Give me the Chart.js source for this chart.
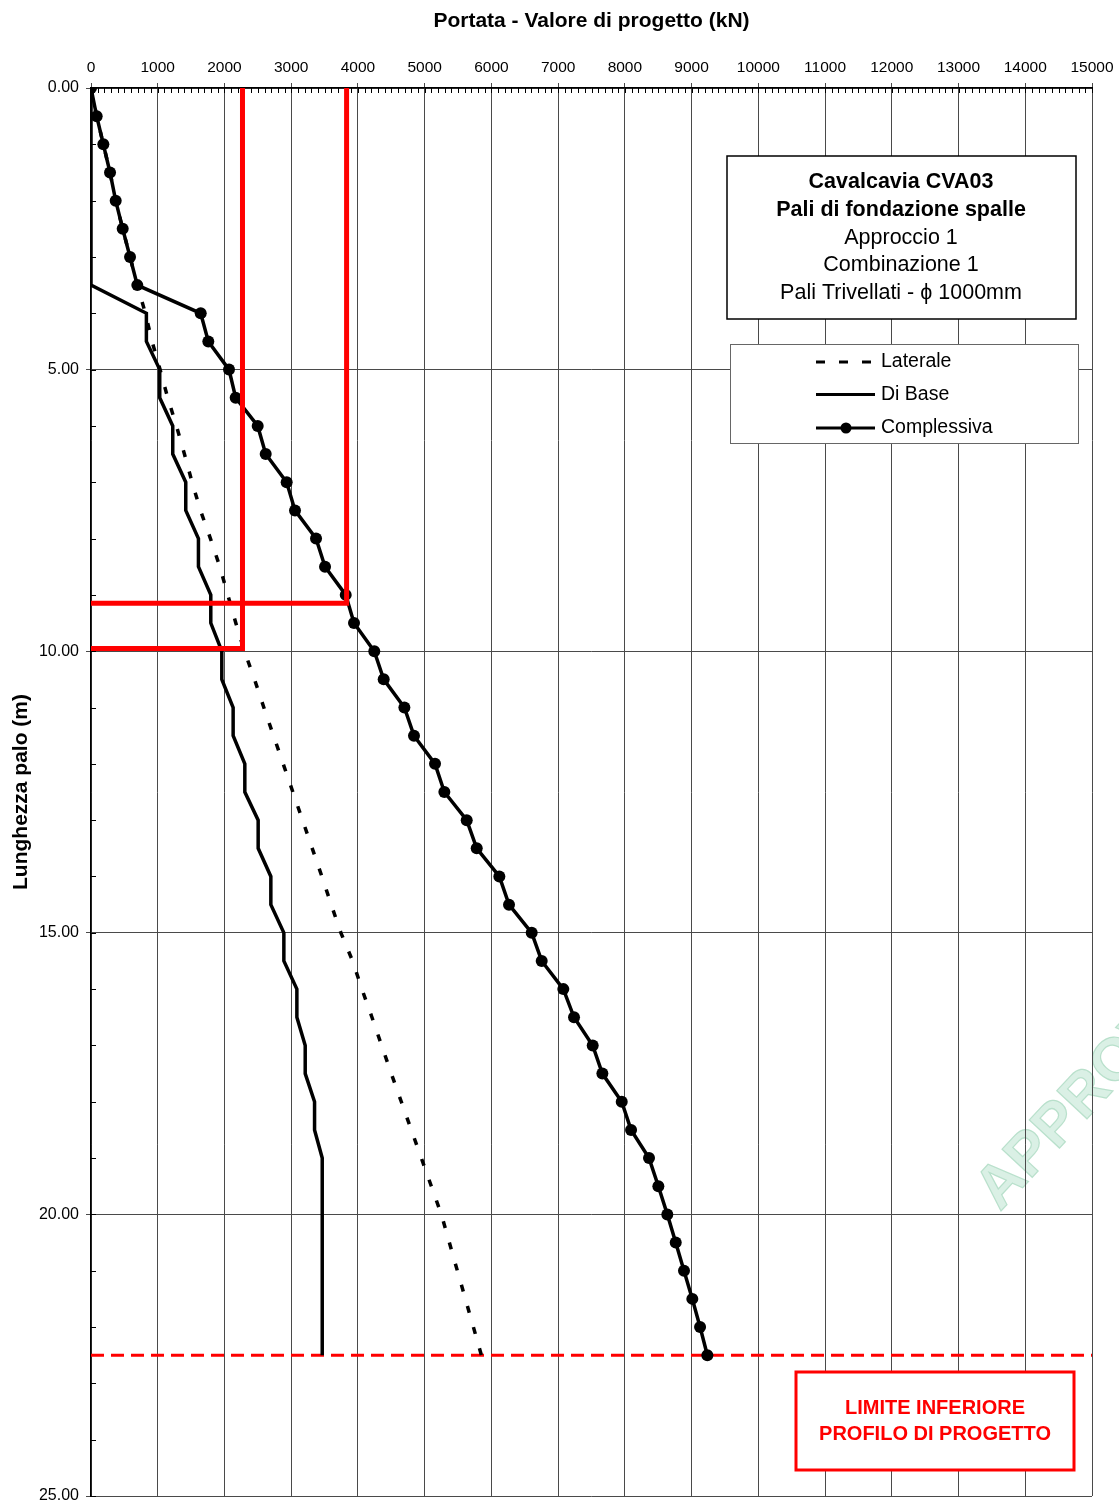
<!DOCTYPE html>
<html>
<head>
<meta charset="utf-8">
<title>Portata - Valore di progetto (kN)</title>
<script src="https://cdn.jsdelivr.net/npm/chart.js@4.4.1/dist/chart.umd.min.js"></script>
<style>
    html, body { margin: 0; padding: 0; background: #ffffff; }
    #wrap { position: relative; width: 1119px; height: 1504px; }
</style>
</head>
<body>
<div id="wrap"><canvas id="chart" width="1119" height="1504"></canvas></div>
<script>
// Depth of the pile (m) - one reading every 0.5 m
const depths = [
    0, 0.5, 1, 1.5, 2, 2.5, 3, 3.5, 4, 4.5,
    5, 5.5, 6, 6.5, 7, 7.5, 8, 8.5, 9, 9.5,
    10, 10.5, 11, 11.5, 12, 12.5, 13, 13.5, 14, 14.5,
    15, 15.5, 16, 16.5, 17, 17.5, 18, 18.5, 19, 19.5,
    20, 20.5, 21, 21.5, 22, 22.5
];

// Portata laterale (kN)
const laterale = [
    0, 85, 185, 285, 370, 475, 585, 694, 815, 915,
    1035, 1150, 1280, 1400, 1515, 1640, 1790, 1930, 2050, 2170,
    2300, 2450, 2590, 2735, 2880, 3025, 3170, 3315, 3460, 3600,
    3745, 3920, 4060, 4210, 4355, 4500, 4650, 4800, 4950, 5100,
    5250, 5370, 5490, 5610, 5730, 5850
];

// Portata di base (kN)
const diBase = [
    0, 0, 0, 0, 0, 0, 0, 0, 830, 830,
    1030, 1030, 1225, 1225, 1420, 1420, 1610, 1610, 1795, 1795,
    1960, 1960, 2130, 2130, 2305, 2305, 2505, 2505, 2695, 2695,
    2890, 2890, 3085, 3085, 3210, 3210, 3350, 3350, 3465, 3465,
    3465, 3465, 3465, 3465, 3465, 3465
];

// Portata complessiva (kN)
const complessiva = [
    0, 85, 185, 285, 370, 475, 585, 694, 1644, 1758,
    2068, 2168, 2498, 2618, 2932, 3057, 3372, 3507, 3817, 3941,
    4245, 4386, 4696, 4840, 5155, 5295, 5630, 5780, 6119, 6264,
    6604, 6754, 7078, 7238, 7518, 7663, 7953, 8093, 8362, 8502,
    8636, 8762, 8886, 9011, 9127, 9236
];

// Red design lines (load kN / depth m)
const redLoadA = [2270, 2270, 0];
const redDepthA = [0, 9.95, 9.95];
const redLoadB = [3830, 3830, 0];
const redDepthB = [0, 9.15, 9.15];
const limitLoad = [0, 15000];
const limitDepth = [22.5, 22.5];

// Axis ranges
const X_MAX = 15000;
const X_STEP = 1000;
const X_MINOR = 100;
const Y_MAX = 25;
const Y_STEP = 5;
const Y_MINOR = 1;

const FONT = '"Liberation Sans", Arial, Helvetica, sans-serif';

const infoLines = [
    { text: 'Cavalcavia CVA03', bold: true },
    { text: 'Pali di fondazione spalle', bold: true },
    { text: 'Approccio 1', bold: false },
    { text: 'Combinazione 1', bold: false },
    { text: 'Pali Trivellati - \u03D5 1000mm', bold: false }
];
const limitLines = ['LIMITE INFERIORE', 'PROFILO DI PROGETTO'];

function toPoints(xs, ys) {
    return xs.map((v, i) => ({ x: v, y: ys[i] }));
}

/**
 * Minor ticks along the top and left axes
 */
const minorTicks = {
    id: 'minorTicks',
    beforeDatasetsDraw(chart) {
        const { ctx, chartArea } = chart;
        const x = chart.scales.x;
        const y = chart.scales.y;
        ctx.save();
        ctx.strokeStyle = '#000';
        ctx.lineWidth = 1;
        ctx.beginPath();
        for (let v = 0; v <= X_MAX; v += X_MINOR) {
            const px = Math.round(x.getPixelForValue(v)) + 0.5;
            ctx.moveTo(px, chartArea.top);
            ctx.lineTo(px, chartArea.top + 5);
        }
        for (let d = 0; d <= Y_MAX; d += Y_MINOR) {
            const py = Math.round(y.getPixelForValue(d)) + 0.5;
            ctx.moveTo(chartArea.left, py);
            ctx.lineTo(chartArea.left + 5, py);
        }
        ctx.stroke();
        ctx.restore();
    }
};

/**
 * Faint watermark on the right edge
 */
const watermark = {
    id: 'watermark',
    beforeDraw(chart) {
        const ctx = chart.ctx;
        ctx.save();
        ctx.translate(1000, 1212);
        ctx.rotate(-47 * Math.PI / 180);
        ctx.font = 'bold 60px ' + FONT;
        ctx.textBaseline = 'alphabetic';
        ctx.fillStyle = 'rgba(214, 238, 226, 0.9)';
        ctx.strokeStyle = 'rgba(180, 222, 200, 0.9)';
        ctx.lineWidth = 1.2;
        ctx.fillText('APPROVATO', 0, 0);
        ctx.strokeText('APPROVATO', 0, 0);
        ctx.restore();
    }
};

/**
 * Info box, legend box and lower limit label
 */
const boxes = {
    id: 'boxes',
    afterDraw(chart) {
        const ctx = chart.ctx;
        ctx.save();

        // Info box
        ctx.fillStyle = '#fff';
        ctx.fillRect(727, 156, 349, 163);
        ctx.strokeStyle = '#000';
        ctx.lineWidth = 1.5;
        ctx.strokeRect(727, 156, 349, 163);
        ctx.fillStyle = '#000';
        ctx.textAlign = 'center';
        ctx.textBaseline = 'middle';
        infoLines.forEach((line, i) => {
            ctx.font = (line.bold ? 'bold ' : '') + '21.5px ' + FONT;
            ctx.fillText(line.text, 901, 182 + i * 27.8);
        });

        // Legend box
        ctx.fillStyle = '#fff';
        ctx.fillRect(730, 345, 348, 99);
        ctx.strokeStyle = '#666';
        ctx.lineWidth = 1;
        ctx.strokeRect(730.5, 344.5, 348, 99);
        const items = [
            { label: 'Laterale', dash: [9, 14], marker: false, y: 362 },
            { label: 'Di Base', dash: [], marker: false, y: 394.5 },
            { label: 'Complessiva', dash: [], marker: true, y: 428 }
        ];
        items.forEach(item => {
            ctx.strokeStyle = '#000';
            ctx.lineWidth = 3;
            ctx.setLineDash(item.dash);
            ctx.beginPath();
            ctx.moveTo(816, item.y);
            ctx.lineTo(875, item.y);
            ctx.stroke();
            ctx.setLineDash([]);
            if (item.marker) {
                ctx.fillStyle = '#000';
                ctx.beginPath();
                ctx.arc(846, item.y, 5.5, 0, Math.PI * 2);
                ctx.fill();
            }
            ctx.fillStyle = '#000';
            ctx.font = '19.5px ' + FONT;
            ctx.textAlign = 'left';
            ctx.textBaseline = 'middle';
            ctx.fillText(item.label, 881, item.y);
        });

        // Lower limit label
        ctx.fillStyle = '#fff';
        ctx.fillRect(796, 1372, 278, 98);
        ctx.strokeStyle = '#ff0000';
        ctx.lineWidth = 3;
        ctx.strokeRect(796, 1372, 278, 98);
        ctx.fillStyle = '#ff0000';
        ctx.font = 'bold 20px ' + FONT;
        ctx.textAlign = 'center';
        ctx.textBaseline = 'middle';
        limitLines.forEach((t, i) => ctx.fillText(t, 935, 1408 + i * 26));

        ctx.restore();
    }
};

const ctx = document.getElementById('chart').getContext('2d');

new Chart(ctx, {
    type: 'line',
    data: {
        datasets: [
            {
                label: 'Complessiva',
                data: toPoints(complessiva, depths),
                borderColor: '#000',
                backgroundColor: '#000',
                borderWidth: 3.5,
                pointRadius: 6,
                pointBorderWidth: 0,
                pointBackgroundColor: '#000',
                order: 1
            },
            {
                label: 'Di Base',
                data: toPoints(diBase, depths),
                borderColor: '#000',
                borderWidth: 3.5,
                pointRadius: 0,
                order: 2
            },
            {
                label: 'Laterale',
                data: toPoints(laterale, depths),
                borderColor: '#000',
                borderWidth: 3.5,
                borderDash: [7, 15],
                borderCapStyle: 'butt',
                pointRadius: 0,
                order: 3
            },
            {
                label: 'Limite A',
                data: toPoints(redLoadA, redDepthA),
                borderColor: '#ff0000',
                borderWidth: 5,
                pointRadius: 0,
                order: 0
            },
            {
                label: 'Limite B',
                data: toPoints(redLoadB, redDepthB),
                borderColor: '#ff0000',
                borderWidth: 5,
                pointRadius: 0,
                order: 0
            },
            {
                label: 'Limite inferiore',
                data: toPoints(limitLoad, limitDepth),
                borderColor: '#ff0000',
                borderWidth: 3,
                borderDash: [13, 7],
                pointRadius: 0,
                order: 4
            }
        ]
    },
    options: {
        responsive: false,
        animation: false,
        devicePixelRatio: 1,
        indexAxis: 'y',
        layout: {
            padding: { left: 0, top: 0, right: 27, bottom: 8 }
        },
        elements: {
            line: { tension: 0, fill: false }
        },
        plugins: {
            legend: { display: false },
            tooltip: { enabled: false }
        },
        scales: {
            x: {
                type: 'linear',
                position: 'top',
                min: 0,
                max: X_MAX,
                afterFit: scale => {
                    scale.height = 88;
                    scale.paddingLeft = 0;
                    scale.paddingRight = 0;
                },
                ticks: {
                    stepSize: X_STEP,
                    padding: 6,
                    maxRotation: 0,
                    autoSkip: false,
                    color: '#000',
                    font: { family: FONT, size: 15.5 },
                    callback: v => String(v)
                },
                grid: {
                    color: '#4a4a4a',
                    lineWidth: 1,
                    tickLength: 5
                },
                border: { color: '#000', width: 1.5 },
                title: {
                    display: true,
                    text: 'Portata - Valore di progetto (kN)',
                    color: '#000',
                    font: { family: FONT, size: 21, weight: 'bold' },
                    padding: { top: 9, bottom: 0 }
                }
            },
            y: {
                type: 'linear',
                position: 'left',
                reverse: true,
                min: 0,
                max: Y_MAX,
                afterFit: scale => {
                    scale.width = 91;
                    scale.paddingTop = 0;
                    scale.paddingBottom = 0;
                },
                ticks: {
                    stepSize: Y_STEP,
                    padding: 7,
                    color: '#000',
                    font: { family: FONT, size: 16, lineHeight: 1 },
                    callback: v => v.toFixed(2)
                },
                grid: {
                    color: '#4a4a4a',
                    lineWidth: 1,
                    tickLength: 5
                },
                border: { color: '#000', width: 1.5 },
                title: {
                    display: true,
                    text: 'Lunghezza palo (m)',
                    color: '#000',
                    font: { family: FONT, size: 21, weight: 'bold' },
                    padding: { top: 9, bottom: 0 }
                }
            }
        }
    },
    plugins: [watermark, minorTicks, boxes]
});
</script>
</body>
</html>
